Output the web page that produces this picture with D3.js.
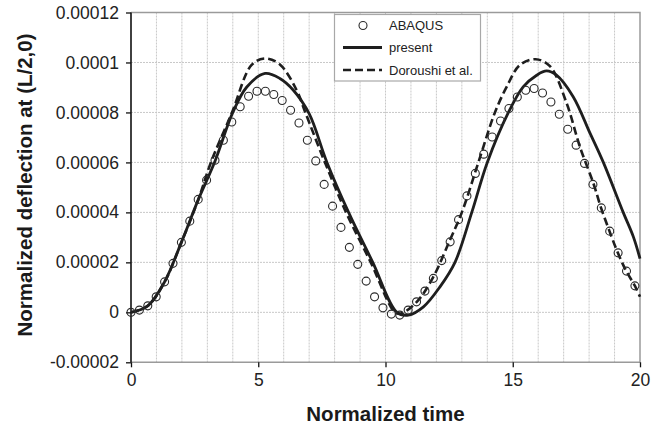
<!DOCTYPE html>
<html>
<head>
<meta charset="utf-8">
<script src="https://cdn.jsdelivr.net/npm/d3@7"></script>
<style>
  body { margin: 0; background: #fff; }
  svg { display: block; font-family: "Liberation Sans", Arial, sans-serif; }
</style>
</head>
<body>
<svg width="668" height="428"></svg>
<script>
// data, deflection values in units of 1e-5
const abaqusT = [0, 0.33, 0.66, 0.99, 1.32, 1.65, 1.98, 2.31, 2.64, 2.97, 3.3, 3.63, 3.96, 4.29, 4.62, 4.95,
  5.28, 5.61, 5.94, 6.27, 6.6, 6.93, 7.26, 7.59, 7.92, 8.25, 8.58, 8.91, 9.24, 9.57, 9.9, 10.23, 10.56,
  10.89, 11.22, 11.55, 11.88, 12.21, 12.54, 12.87, 13.2, 13.53, 13.86, 14.19, 14.52, 14.85, 15.18, 15.51,
  15.84, 16.17, 16.5, 16.83, 17.16, 17.49, 17.82, 18.15, 18.48, 18.81, 19.14, 19.47, 19.8];
const abaqusW = [0, 0.09, 0.26, 0.62, 1.22, 1.96, 2.8, 3.65, 4.52, 5.29, 6.09, 6.89, 7.62, 8.23, 8.65, 8.85,
  8.85, 8.72, 8.48, 8.09, 7.58, 6.89, 6.06, 5.12, 4.25, 3.4, 2.6, 1.92, 1.25, 0.62, 0.18, -0.07, -0.11,
  0.09, 0.42, 0.85, 1.36, 2.07, 2.82, 3.71, 4.66, 5.56, 6.33, 7.02, 7.66, 8.16, 8.62, 8.89,
  8.96, 8.78, 8.42, 7.93, 7.33, 6.69, 5.96, 5.12, 4.18, 3.25, 2.38, 1.65, 1.06];

const presentT = [0, 0.66, 1.32, 1.98, 2.64, 3.3, 4.0, 4.55, 5.27, 5.85, 6.38, 7.0, 7.7, 8.55, 9.5,
  10.45, 10.9, 11.49, 12.14, 12.73, 13.39, 14.0, 14.83, 15.41, 15.94, 16.33, 16.72, 17.38, 18.04,
  18.56, 19.34, 19.74, 20];
const presentW = [0, 0.26, 1.22, 2.8, 4.5, 6.05, 8.0, 9.02, 9.56, 9.36, 8.89, 7.95, 6.0, 4.0, 2.0,
  0.0, -0.11, 0.22, 1.02, 2.0, 4.0, 6.0, 8.0, 9.02, 9.49, 9.66, 9.49, 8.62, 7.16,
  6.0, 4.0, 3.02, 2.15];

const doroushiT = [0, 0.66, 1.32, 1.98, 2.64, 3.14, 3.97, 4.74, 5.27, 5.85, 6.51, 6.85, 7.62,
  8.45, 9.42, 10.37, 10.6, 11.23, 11.88, 12.53, 13.0, 13.65, 14.3, 14.76, 15.28, 15.9, 16.46,
  17.12, 17.64, 18.17, 18.47, 18.8, 19.13, 19.46, 19.8, 20];
const doroushiW = [0, 0.26, 1.22, 2.8, 4.5, 6.0, 8.0, 9.9, 10.16, 9.92, 8.89, 8.0, 6.0,
  4.0, 2.0, 0.0, -0.05, 0.42, 1.42, 2.89, 4.0, 6.0, 8.0, 9.02, 9.9, 10.13, 9.85,
  8.36, 6.62, 5.16, 4.18, 3.25, 2.38, 1.65, 1.06, 0.62];

const xTicks = [0, 5, 10, 15, 20];
const yTicks = [-0.00002, 0, 0.00002, 0.00004, 0.00006, 0.00008, 0.0001, 0.00012];
const yTickLabels = ["-0.00002", "0", "0.00002", "0.00004", "0.00006", "0.00008", "0.0001", "0.00012"];
const legendNames = ["ABAQUS", "present", "Doroushi et al."];

const unit = 1e-5;
const toPts = (ts, ws) => ts.map((t, i) => ({ t: t, w: ws[i] * unit }));
const abaqus = toPts(abaqusT, abaqusW);
const present = toPts(presentT, presentW);
const doroushi = toPts(doroushiT, doroushiW);

const svg = d3.select("svg");
const plotLeft = 131, plotRight = 640, plotTop = 12.5, plotBottom = 362.3;

const x = d3.scaleLinear().domain([0, 20]).range([plotLeft, plotRight]);
const y = d3.scaleLinear().domain([-0.00002, 0.00012]).range([plotBottom, plotTop]);

// dotted grid
svg.append("g")
  .selectAll("line")
  .data(d3.range(1, 20))
  .join("line")
  .attr("x1", d => x(d)).attr("x2", d => x(d))
  .attr("y1", plotTop).attr("y2", plotBottom)
  .attr("stroke", "#c8c8c8")
  .attr("stroke-dasharray", "2,1");

svg.append("g")
  .selectAll("line")
  .data(yTicks.slice(1, -1))
  .join("line")
  .attr("x1", plotLeft).attr("x2", plotRight)
  .attr("y1", d => y(d)).attr("y2", d => y(d))
  .attr("stroke", "#c8c8c8")
  .attr("stroke-dasharray", "2,1");

// plot frame, grey top / right / bottom
svg.append("path")
  .attr("d", `M${plotLeft},${plotTop}H${plotRight}V${plotBottom}H${plotLeft}`)
  .attr("fill", "none")
  .attr("stroke", "#9a9a9a")
  .attr("stroke-width", 1.5);

// x-axis
const xAxis = svg.append("g")
  .attr("transform", `translate(0, ${plotBottom})`)
  .call(d3.axisBottom(x).tickValues(xTicks).tickSize(5).tickPadding(6).tickFormat(d3.format("d")));
xAxis.select(".domain").remove();
xAxis.selectAll("line").attr("stroke", "#111").attr("stroke-width", 1.3);
xAxis.selectAll("text").attr("font-size", "17.5px").attr("fill", "#222").attr("font-family", null);

// y-axis
const yAxis = svg.append("g")
  .attr("transform", `translate(${plotLeft}, 0)`)
  .call(d3.axisLeft(y).tickValues(yTicks).tickSize(5).tickPadding(7).tickFormat((d, i) => yTickLabels[i]));
yAxis.select(".domain").attr("stroke", "#111").attr("stroke-width", 1.6).attr("d", `M0,${plotTop}V${plotBottom}`);
yAxis.selectAll("line").attr("stroke", "#111").attr("stroke-width", 1.3);
yAxis.selectAll("text").attr("font-size", "17.5px").attr("fill", "#222").attr("font-family", null);

// axis titles
svg.append("text")
  .attr("x", (plotLeft + plotRight) / 2)
  .attr("y", 421)
  .attr("text-anchor", "middle")
  .attr("font-size", "20.5px")
  .attr("font-weight", "bold")
  .attr("fill", "#1a1a1a")
  .text("Normalized time");

svg.append("text")
  .attr("transform", "rotate(-90)")
  .attr("x", -185)
  .attr("y", 32)
  .attr("text-anchor", "middle")
  .attr("font-size", "20.5px")
  .attr("font-weight", "bold")
  .attr("fill", "#1a1a1a")
  .text("Normalized deflection at (L/2,0)");

// lines
const line = d3.line()
  .x(d => x(d.t))
  .y(d => y(d.w))
  .curve(d3.curveCatmullRom.alpha(0.5));

svg.append("path")
  .attr("d", line(doroushi))
  .attr("fill", "none")
  .attr("stroke", "#1e1e1e")
  .attr("stroke-width", 2.6)
  .attr("stroke-dasharray", "8,4");

svg.append("path")
  .attr("d", line(present))
  .attr("fill", "none")
  .attr("stroke", "#1e1e1e")
  .attr("stroke-width", 2.8);

svg.append("g")
  .selectAll("circle")
  .data(abaqus)
  .join("circle")
  .attr("cx", d => x(d.t))
  .attr("cy", d => y(d.w))
  .attr("r", 4)
  .attr("fill", "none")
  .attr("stroke", "#2a2a2a")
  .attr("stroke-width", 1.1);

// legend
const legend = svg.append("g");
legend.append("rect")
  .attr("x", 334.5).attr("y", 14.5)
  .attr("width", 146).attr("height", 66.5)
  .attr("fill", "#fff")
  .attr("stroke", "#a8a8a8")
  .attr("stroke-width", 1.2);

const rowY = [25.5, 47.5, 70];
legend.append("circle")
  .attr("cx", 363).attr("cy", rowY[0]).attr("r", 4)
  .attr("fill", "none").attr("stroke", "#2a2a2a").attr("stroke-width", 1.1);
legend.append("line")
  .attr("x1", 343).attr("x2", 382).attr("y1", rowY[1]).attr("y2", rowY[1])
  .attr("stroke", "#1e1e1e").attr("stroke-width", 2.8);
legend.append("line")
  .attr("x1", 343).attr("x2", 382).attr("y1", rowY[2]).attr("y2", rowY[2])
  .attr("stroke", "#1e1e1e").attr("stroke-width", 2.6).attr("stroke-dasharray", "8,4");

legend.selectAll("text")
  .data(legendNames)
  .join("text")
  .attr("x", 389)
  .attr("y", (d, i) => rowY[i] + 4.5)
  .attr("font-size", "13px")
  .attr("fill", "#222")
  .text(d => d);
</script>
</body>
</html>
